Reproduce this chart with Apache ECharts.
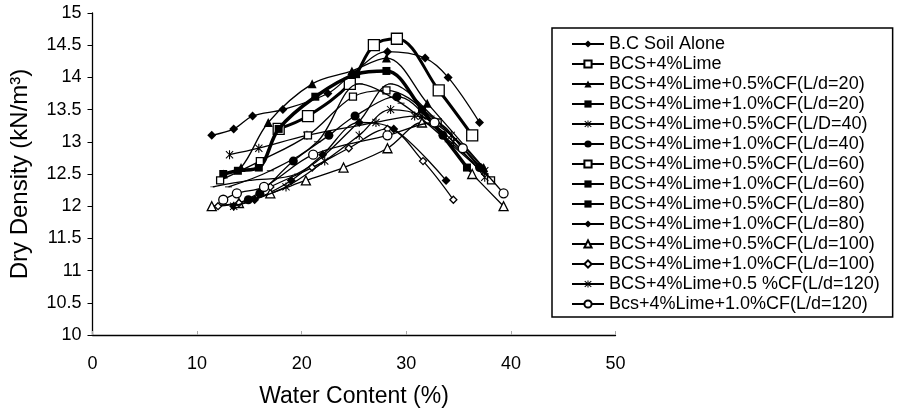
<!DOCTYPE html>
<html>
<head>
<meta charset="utf-8">
<script src="https://cdn.jsdelivr.net/npm/echarts@6/dist/echarts.min.js"></script>
<style>
html,body{margin:0;padding:0;background:#fff;}
#chart{width:904px;height:419px;}
</style>
</head>
<body>
<div id="chart"></div>
<script>
// ---- Data (water content %, dry density kN/m3) ----
var seriesNames = [
  'B.C Soil Alone',
  'BCS+4%Lime',
  'BCS+4%Lime+0.5%CF(L/d=20)',
  'BCS+4%Lime+1.0%CF(L/d=20)',
  'BCS+4%Lime+0.5%CF(L/D=40)',
  'BCS+4%Lime+1.0%CF(L/d=40)',
  'BCS+4%Lime+0.5%CF(L/d=60)',
  'BCS+4%Lime+1.0%CF(L/d=60)',
  'BCS+4%Lime+0.5%CF(L/d=80)',
  'BCS+4%Lime+1.0%CF(L/d=80)',
  'BCS+4%Lime+0.5%CF(L/d=100)',
  'BCS+4%Lime+1.0%CF(L/d=100)',
  'BCS+4%Lime+0.5 %CF(L/d=120)',
  'Bcs+4%Lime+1.0%CF(L/d=120)'
];
var bcSoil      = [[11.4,13.1],[13.5,13.2],[15.3,13.4],[18.2,13.5],[22.5,13.75],[24.8,14.05],[28.2,14.4],[31.8,14.3],[34.0,14.0],[37.0,13.3]];
var lime4       = [[17.8,13.2],[20.6,13.4],[24.6,13.9],[26.9,14.5],[29.1,14.6],[33.1,13.8],[36.3,13.1]];
var cf05ld20    = [[12.5,12.5],[14.2,12.6],[16.8,13.3],[21.0,13.9],[24.8,14.1],[28.1,14.3],[32.0,13.6],[37.4,12.6]];
var cf10ld20    = [[12.5,12.5],[13.9,12.55],[15.9,12.6],[17.8,13.2],[21.3,13.7],[25.2,14.05],[28.1,14.1],[31.5,13.5],[35.8,12.6]];
var cf05ld40    = [[13.1,12.8],[15.9,12.9],[20.5,13.1],[27.1,13.3],[30.8,13.4],[34.3,13.1],[37.5,12.55]];
var cf10ld40    = [[14.9,12.1],[16.0,12.2],[19.2,12.7],[22.6,13.1],[25.1,13.4],[29.1,13.7],[33.5,13.1],[37.0,12.6]];
var cf05ld60    = [[12.2,12.4],[16.0,12.7],[20.6,13.1],[24.9,13.7],[28.1,13.8],[33.0,13.3],[38.1,12.4]];
var cf10ld60    = [[11.5,12.3],[15.0,12.4],[19.5,12.5],[25.4,13.3],[28.5,13.9],[32.5,13.4],[37.0,12.6]];
var cf05ld80    = [[13.0,12.3],[17.0,12.55],[21.5,13.0],[25.5,13.9],[29.5,13.6],[34.0,13.0],[37.5,12.5]];
var cf10ld80    = [[13.5,12.0],[15.5,12.1],[19.0,12.4],[22.0,12.8],[25.5,13.3],[28.8,13.2],[33.8,12.4]];
var cf05ld100   = [[11.4,12.0],[14.0,12.05],[17.0,12.2],[20.4,12.4],[24.0,12.6],[28.2,12.9],[31.5,13.3],[36.3,12.5],[39.3,12.0]];
var cf10ld100   = [[12.0,12.0],[14.0,12.05],[17.0,12.3],[21.0,12.6],[24.5,12.9],[28.2,13.2],[31.6,12.7],[34.5,12.1]];
var cf05ld120   = [[13.5,12.0],[18.5,12.3],[22.2,12.7],[25.5,13.1],[28.5,13.5],[31.5,13.4],[34.5,13.0],[37.5,12.45]];
var cf10ld120   = [[12.5,12.1],[13.8,12.2],[16.4,12.3],[21.1,12.8],[28.2,13.1],[32.7,13.3],[35.4,12.9],[39.3,12.2]];
var allData = [bcSoil, lime4, cf05ld20, cf10ld20, cf05ld40, cf10ld40, cf05ld60, cf10ld60, cf05ld80, cf10ld80, cf05ld100, cf10ld100, cf05ld120, cf10ld120];

var xMin = 0, xMax = 50, xStep = 10;
var yMin = 10, yMax = 15, yStep = 0.5;

// ---- Styles ----
var star = 'path://M4.4 0 L5.6 0 L5.6 10 L4.4 10 Z M0.6 1.4 L1.4 0.6 L9.4 8.6 L8.6 9.4 Z M8.6 0.6 L9.4 1.4 L1.4 9.4 L0.6 8.6 Z';
var dash = 'path://M0 0 L10 0 L10 3 L0 3 Z';
var styles = [
  {sym:'diamond', size:9, lw:1.3, empty:false},
  {sym:'rect', size:11, lw:3, empty:true},
  {sym:'triangle', size:9, lw:1.3, empty:false},
  {sym:'rect', size:8, lw:3.5, empty:false},
  {sym:star, size:9, lw:1.3, empty:false},
  {sym:'circle', size:9, lw:1.3, empty:false},
  {sym:'rect', size:7, lw:1.3, empty:true},
  {sym:dash, size:[5,2], lw:1.3, empty:false},
  {sym:dash, size:[7,3], lw:1.3, empty:false},
  {sym:'diamond', size:9, lw:1.3, empty:false},
  {sym:'triangle', size:9, lw:1.3, empty:true},
  {sym:'diamond', size:7, lw:1.3, empty:true},
  {sym:star, size:9, lw:1.3, empty:false},
  {sym:'circle', size:9, lw:1.3, empty:true}
];

var font = "'Liberation Sans', Arial, sans-serif";
var series = allData.map(function (d, i) {
  var s = styles[i];
  return {
    name: seriesNames[i],
    type: 'line',
    data: d,
    smooth: 0.35,
    symbol: s.sym,
    symbolSize: s.size,
    symbolKeepAspect: true,
    showAllSymbol: true,
    lineStyle: {color:'#000', width:s.lw},
    itemStyle: s.empty ? {color:'#fff', borderColor:'#000', borderWidth:1.3}
                       : {color:'#000', borderColor:'#000', borderWidth:0},
    emphasis: {disabled:true},
    z: 2 + i
  };
});

var chart = echarts.init(document.getElementById('chart'), null, {renderer:'canvas'});
chart.setOption({
  animation: false,
  backgroundColor: '#fff',
  textStyle: {fontFamily: font, color:'#000'},
  grid: {left: 92.5, right: 288.5, top: 13, bottom: 84, containLabel: false},
  legend: {
    orient: 'vertical',
    left: 552, top: 28,
    padding: [6, 13, 3, 19],
    itemWidth: 32, itemHeight: 9, itemGap: 0,
    symbolKeepAspect: true,
    borderColor: '#000', borderWidth: 1.5,
    backgroundColor: '#fff',
    textStyle: {fontFamily: font, fontSize: 18, lineHeight: 20, color:'#000'},
    data: seriesNames
  },
  xAxis: {
    type: 'value', min: xMin, max: xMax, interval: xStep,
    name: 'Water Content (%)', nameLocation: 'middle', nameGap: 50,
    nameTextStyle: {fontFamily: font, fontSize: 23, color:'#000'},
    axisLine: {onZero:false, lineStyle:{color:'#000', width:1.3}},
    axisTick: {show:true, inside:true, length:4, lineStyle:{color:'#aaa'}},
    axisLabel: {fontFamily: font, fontSize: 18, color:'#000', margin: 20},
    splitLine: {show:false}
  },
  yAxis: {
    type: 'value', min: yMin, max: yMax, interval: yStep,
    name: 'Dry Density (kN/m³)', nameLocation: 'middle', nameGap: 60, nameRotate: 90,
    nameTextStyle: {fontFamily: font, fontSize: 24, color:'#000'},
    axisLine: {onZero:false, lineStyle:{color:'#000', width:1.3}},
    axisTick: {show:true, inside:false, length:5, lineStyle:{color:'#000'}},
    axisLabel: {fontFamily: font, fontSize: 18, color:'#000', margin: 11},
    splitLine: {show:false}
  },
  series: series
});
</script>
</body>
</html>
